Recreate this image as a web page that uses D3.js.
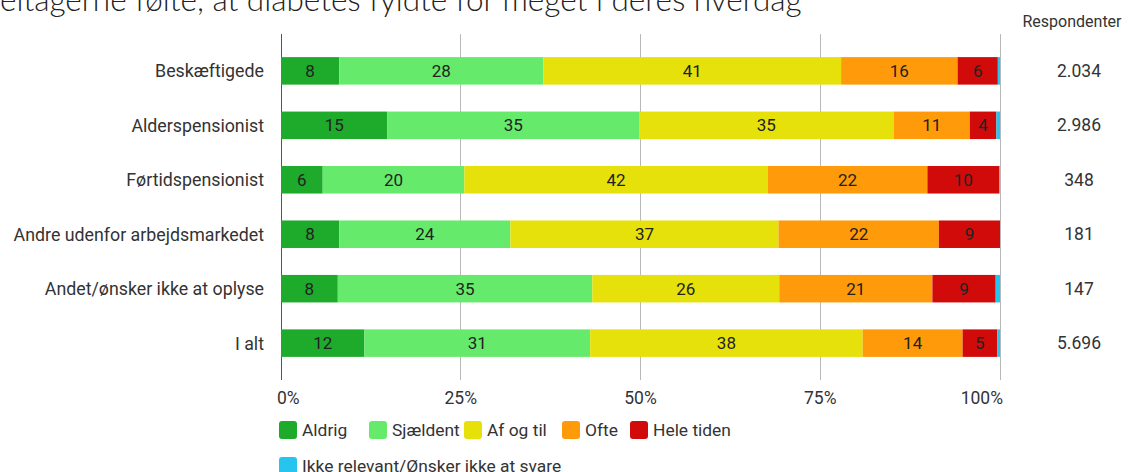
<!DOCTYPE html>
<html lang="da">
<head>
<meta charset="utf-8">
<title>Diabetes i hverdagen</title>
<style>
  body { margin: 0; background: #fff; }
  svg { display: block; font-family: Roboto, "Noto Sans", sans-serif; }
</style>
</head>
<body>
<svg width="1136" height="472"></svg>
<script src="https://cdn.jsdelivr.net/npm/d3@7"></script>
<script>

const title = "eltagerne følte, at diabetes fyldte for meget i deres hverdag"

const categories = ["Beskæftigede", "Alderspensionist", "Førtidspensionist",
                    "Andre udenfor arbejdsmarkedet", "Andet/ønsker ikke at oplyse", "I alt"]
const respondents = ["2.034", "2.986", "348", "181", "147", "5.696"]

const seriesNames = ["Aldrig", "Sjældent", "Af og til", "Ofte", "Hele tiden", "Ikke relevant/Ønsker ikke at svare"]
const colors = ["#1eaa2a", "#66ea6c", "#e6e10a", "#ff9a0a", "#d10a0a", "#28c4f0"]

// percent per category, one array per answer
const aldrig    = [8.1, 14.8, 5.8, 8.1, 7.9, 11.6]
const sjaeldent = [28.4, 35.0, 19.7, 23.8, 35.4, 31.4]
const afOgTil   = [41.4, 35.4, 42.2, 37.3, 26.0, 37.9]
const ofte      = [16.2, 10.6, 22.2, 22.3, 21.3, 13.9]
const heleTiden = [5.6, 3.7, 10.0, 8.5, 8.8, 4.8]
const ikkeRel   = [0.3, 0.5, 0.1, 0, 0.6, 0.4]

const ticks = [0, 25, 50, 75, 100]

const series = [aldrig, sjaeldent, afOgTil, ofte, heleTiden, ikkeRel]
const rows = categories.map((c, i) => {
  const r = {cat: c}
  seriesNames.forEach((s, j) => r[s] = series[j][i])
  return r
})

const svg = d3.select("svg")

const x = d3.scaleLinear().domain([0, 100]).range([281, 1000])
const y = d3.scaleBand().domain(categories).range([43.5, 370.5]).paddingInner(0.495).paddingOuter(0.25)

const stacked = d3.stack().keys(seriesNames)(rows)
const color = d3.scaleOrdinal().domain(seriesNames).range(colors)

// title (cut at the top in the original)
svg.append("text")
    .attr("x", 0).attr("y", 11)
    .text(title)
    .style("font-family", "Lato, sans-serif")
    .style("font-weight", 300)
    .style("font-size", "31.5px")
    .style("fill", "#222")

// grid
svg.append("g").selectAll("line")
  .data(ticks)
  .join("line")
    .attr("x1", d => x(d)).attr("x2", d => x(d))
    .attr("y1", 34).attr("y2", 380)
    .attr("stroke", d => d == 0 ? "#555" : "#b8b8b8")
    .attr("stroke-width", 1)
    .style("shape-rendering", "crispEdges")

// bars
const layers = svg.append("g").selectAll("g")
  .data(stacked)
  .join("g")
    .attr("fill", d => color(d.key))

layers.selectAll("rect")
  .data(d => d)
  .join("rect")
    .attr("x", d => x(d[0]))
    .attr("y", d => y(d.data.cat))
    .attr("width", d => x(d[1]) - x(d[0]))
    .attr("height", y.bandwidth())

layers.selectAll("text")
  .data(d => d.filter(v => v[1] - v[0] >= 2))
  .join("text")
    .attr("x", d => (x(d[0]) + x(d[1])) / 2)
    .attr("y", d => y(d.data.cat) + y.bandwidth() / 2)
    .attr("text-anchor", "middle")
    .attr("dominant-baseline", "central")
    .text(d => Math.round(d[1] - d[0]))
    .style("font-size", "17px")
    .style("fill", "#222")

// category labels
svg.append("g").selectAll("text")
  .data(categories)
  .join("text")
    .attr("x", 264)
    .attr("y", d => y(d) + y.bandwidth() / 2)
    .attr("text-anchor", "end")
    .attr("dominant-baseline", "central")
    .text(d => d)
    .style("font-size", "17.8px")
    .style("fill", "#333")

// respondents column
svg.append("text")
    .attr("x", 1072).attr("y", 21)
    .attr("text-anchor", "middle")
    .attr("dominant-baseline", "central")
    .text("Respondenter")
    .style("font-size", "16px")
    .style("fill", "#333")

svg.append("g").selectAll("text")
  .data(respondents)
  .join("text")
    .attr("x", 1079)
    .attr("y", (d, i) => y(categories[i]) + y.bandwidth() / 2)
    .attr("text-anchor", "middle")
    .attr("dominant-baseline", "central")
    .text(d => d)
    .style("font-size", "17.5px")
    .style("fill", "#333")

// x tick labels
svg.append("g").selectAll("text")
  .data(ticks)
  .join("text")
    .attr("x", d => d == 0 ? x(d) - 4 : d == 100 ? x(d) + 3 : x(d))
    .attr("y", 398)
    .attr("text-anchor", d => d == 0 ? "start" : d == 100 ? "end" : "middle")
    .attr("dominant-baseline", "central")
    .text(d => d + "%")
    .style("font-size", "17.5px")
    .style("fill", "#333")

// legend
const legendPos = [[279, 430], [369, 430], [464, 430], [562, 430], [630, 430], [279, 466]]
const legend = svg.append("g").selectAll("g")
  .data(seriesNames)
  .join("g")
    .attr("transform", (d, i) => `translate(${legendPos[i][0]},${legendPos[i][1]})`)

legend.append("rect")
    .attr("x", 0).attr("y", -9)
    .attr("width", 18).attr("height", 18)
    .attr("rx", 3)
    .attr("fill", d => color(d))

legend.append("text")
    .attr("x", 23)
    .attr("dominant-baseline", "central")
    .text(d => d)
    .style("font-size", "17.4px")
    .style("fill", "#333")

</script>
</body>
</html>
